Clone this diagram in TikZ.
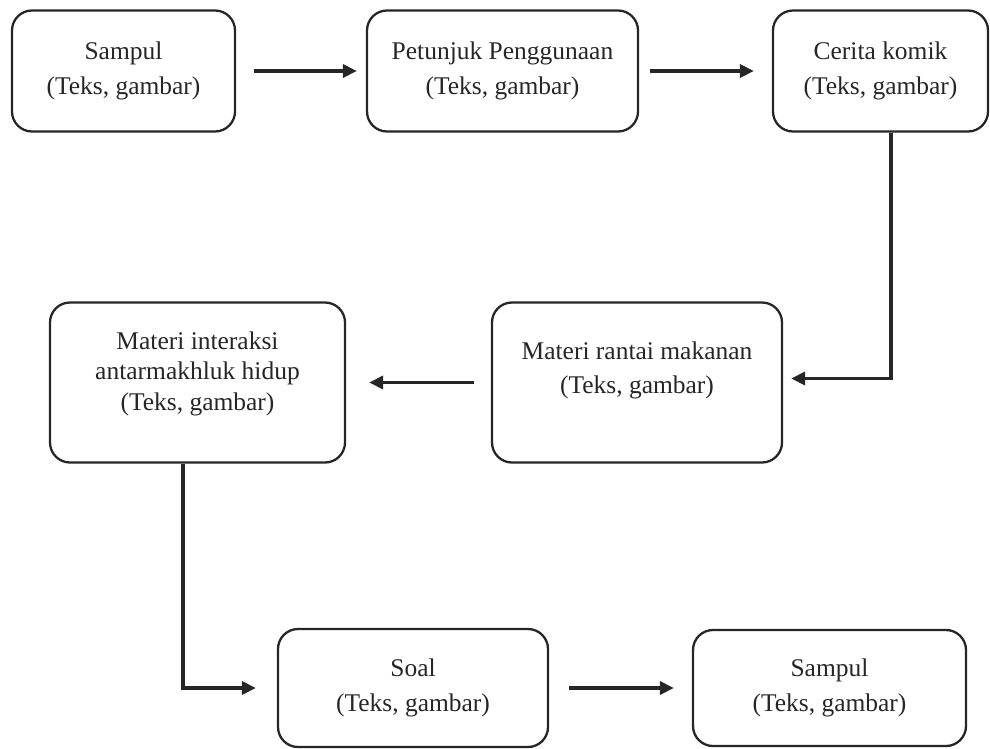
\documentclass[tikz,border=0pt]{standalone}
\usepackage{fontspec}
\setmainfont{Liberation Serif}
\usetikzlibrary{arrows.meta, positioning}
\definecolor{cink}{HTML}{262626}
\tikzset{
  every picture/.style={line width=1.3pt},
  box/.style={draw=cink, text=cink, rounded corners=0.4cm, align=center, minimum width=#1, minimum height=2.42cm, font=\fontsize{14.5}{19.5}\selectfont},
  box/.default=4.5cm,
  arrow/.style={-{Triangle[length=2.8mm, width=2.6mm]}, draw=cink, line width=2pt},
}

\begin{document}
\begin{tikzpicture}
  \useasboundingbox (0,0) rectangle (19.8,-14.98);
  % top row
  \node[box=4.46cm] (sampul) at (2.47,-1.42) {Sampul\\(Teks, gambar)};
  \node[box=5.42cm] (petunjuk) at (10.05,-1.42) {Petunjuk Penggunaan\\(Teks, gambar)};
  \node[box=4.30cm] (komik) at (17.61,-1.42) {Cerita komik\\(Teks, gambar)};
  % middle row
  \node[box=5.80cm, minimum height=3.2cm, text depth=0.58cm] (rantai) at (12.74,-7.65) {Materi rantai makanan\\(Teks, gambar)};
  \node[box=5.90cm, minimum height=3.2cm, text depth=0.46cm, font=\fontsize{14.5}{17.5}\selectfont] (interaksi) at (3.95,-7.65) {Materi interaksi\\antarmakhluk hidup\\(Teks, gambar)};
  % bottom row
  \node[box=5.40cm, minimum height=2.36cm] (soal) at (8.26,-13.76) {Soal\\(Teks, gambar)};
  \node[box=5.46cm, minimum height=2.32cm] (penutup) at (16.59,-13.76) {Sampul\\(Teks, gambar)};
  % arrows
  \draw[arrow, shorten <=0.36cm, shorten >=0.18cm] (sampul) -- (petunjuk);
  \draw[arrow, shorten <=0.22cm, shorten >=0.36cm] (petunjuk) -- (komik);
  \draw[arrow] ([xshift=0.21cm]komik.south) |- ([xshift=0.16cm, yshift=0.08cm]rantai.east);
  \draw[arrow, shorten <=0.34cm, shorten >=0.46cm] (rantai) -- (interaksi);
  \draw[arrow] ([xshift=-0.29cm]interaksi.south) |- ([xshift=-0.42cm]soal.west);
  \draw[arrow, shorten <=0.4cm, shorten >=0.36cm] (soal) -- (penutup);
\end{tikzpicture}
\end{document}
